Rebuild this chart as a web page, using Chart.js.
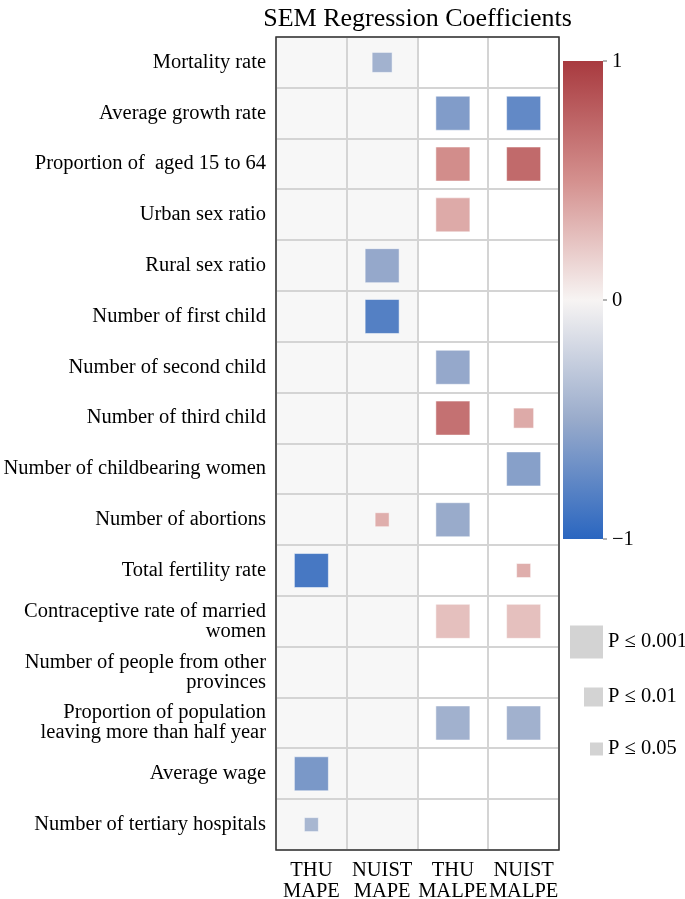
<!DOCTYPE html>
<html>
<head>
<meta charset="utf-8">
<script src="https://cdn.jsdelivr.net/npm/chart.js@4"></script>
<style>
  body { margin: 0; background: #fff; }
</style>
</head>
<body>
<canvas id="myChart" width="685" height="899"></canvas>
<script>
// rows (top to bottom) and columns
const factors = [
  "Mortality rate",
  "Average growth rate",
  "Proportion of  aged 15 to 64",
  "Urban sex ratio",
  "Rural sex ratio",
  "Number of first child",
  "Number of second child",
  "Number of third child",
  "Number of childbearing women",
  "Number of abortions",
  "Total fertility rate",
  "Contraceptive rate of married\nwomen",
  "Number of people from other\nprovinces",
  "Proportion of population\nleaving more than half year",
  "Average wage",
  "Number of tertiary hospitals"
];
const models = ["THU\nMAPE", "NUIST\nMAPE", "THU\nMALPE", "NUIST\nMALPE"];
const chartTitle = "SEM Regression Coefficients";

// coefficients, null = not significant
const thuMapeCoef    = [null, null, null, null, null, null, null, null, null, null, -0.87, null, null, null, -0.64, -0.42];
const nuistMapeCoef  = [-0.45, null, null, null, -0.52, -0.81, null, null, null, 0.35, null, null, null, null, null, null];
const thuMalpeCoef   = [null, -0.61, 0.52, 0.37, null, null, -0.52, 0.68, null, -0.5, null, 0.26, null, -0.46, null, null];
const nuistMalpeCoef = [null, -0.75, 0.72, null, null, null, null, 0.37, -0.58, null, 0.35, 0.26, null, -0.46, null, null];

// p value level for each cell
const thuMapeP    = [null, null, null, null, null, null, null, null, null, null, 0.001, null, null, null, 0.001, 0.05];
const nuistMapeP  = [0.01, null, null, null, 0.001, 0.001, null, null, null, 0.05, null, null, null, null, null, null];
const thuMalpeP   = [null, 0.001, 0.001, 0.001, null, null, 0.001, 0.001, null, 0.001, null, 0.001, null, 0.001, null, null];
const nuistMalpeP = [null, 0.001, 0.001, null, null, null, null, 0.01, 0.001, null, 0.05, 0.001, null, 0.001, null, null];

const pLevels = [0.001, 0.01, 0.05];
const pLabels = ["P \u2264 0.001", "P \u2264 0.01", "P \u2264 0.05"];
const cbarTicks = [1, 0, -1];

// colour map (value -> rgb)
const colorStops = [
  [-1, [42, 102, 192]],
  [-0.5, [153, 171, 203]],
  [0, [247, 244, 243]],
  [0.5, [212, 144, 142]],
  [1, [168, 58, 63]]
];
const squareSide = { 0.001: 34, 0.01: 20, 0.05: 14 };
const FONT = '"Liberation Serif", "Times New Roman", serif';

function coefColor(v) {
  for (let i = 0; i < colorStops.length - 1; i++) {
    const [v0, c0] = colorStops[i];
    const [v1, c1] = colorStops[i + 1];
    if (v >= v0 && v <= v1) {
      const t = (v - v0) / (v1 - v0);
      return "rgb(" + c0.map((c, k) => Math.round(c + (c1[k] - c) * t)).join(",") + ")";
    }
  }
  return "#ccc";
}

const coefByModel = [thuMapeCoef, nuistMapeCoef, thuMalpeCoef, nuistMalpeCoef];
const pByModel = [thuMapeP, nuistMapeP, thuMalpeP, nuistMalpeP];
let points = [];
let fills = [];
let radii = [];
models.forEach((m, j) => {
  factors.forEach((f, i) => {
    const v = coefByModel[j][i];
    if (v === null) return;
    points.push({ x: m, y: f });
    fills.push(coefColor(v));
    // rect point style: side = radius * sqrt(2)
    radii.push(squareSide[pByModel[j][i]] / Math.SQRT2);
  });
});

const extras = {
  id: "extras",
  beforeDraw(chart) {
    const { ctx, chartArea, scales } = chart;
    const mid = (scales.x.getPixelForValue(1) + scales.x.getPixelForValue(2)) / 2;
    ctx.save();
    ctx.fillStyle = "#f7f7f7";
    ctx.fillRect(chartArea.left, chartArea.top, mid - chartArea.left, chartArea.bottom - chartArea.top);
    ctx.restore();
  },
  afterDraw(chart) {
    const { ctx, chartArea } = chart;
    ctx.save();
    ctx.strokeStyle = "#333";
    ctx.lineWidth = 1.5;
    ctx.strokeRect(chartArea.left, chartArea.top, chartArea.right - chartArea.left, chartArea.bottom - chartArea.top);

    // title, centred over the plot (wider than the plot, so not the built-in one)
    ctx.fillStyle = "#000";
    ctx.font = "26px " + FONT;
    ctx.textAlign = "center";
    ctx.textBaseline = "alphabetic";
    ctx.fillText(chartTitle, (chartArea.left + chartArea.right) / 2, 26);
    ctx.textAlign = "left";

    // colour bar
    const cx = chartArea.right + 4, cw = 40, ctop = 61, cbot = 539;
    const grad = ctx.createLinearGradient(0, ctop, 0, cbot);
    colorStops.forEach(([v, c]) => grad.addColorStop((1 - v) / 2, "rgb(" + c.join(",") + ")"));
    ctx.fillStyle = grad;
    ctx.fillRect(cx, ctop, cw, cbot - ctop);
    ctx.font = "20.5px " + FONT;
    ctx.textBaseline = "middle";
    cbarTicks.forEach((t) => {
      const y = ctop + ((1 - t) / 2) * (cbot - ctop);
      ctx.strokeStyle = "#666";
      ctx.lineWidth = 1;
      ctx.beginPath();
      ctx.moveTo(cx + cw, y);
      ctx.lineTo(cx + cw + 4, y);
      ctx.stroke();
      ctx.fillStyle = "#000";
      ctx.fillText(t < 0 ? "\u2212" + Math.abs(t) : String(t), cx + cw + 9, y + 1);
    });

    // size legend
    const legY = [642, 697, 749];
    pLevels.forEach((p, k) => {
      const s = squareSide[p] - 1;
      ctx.fillStyle = "#d3d3d3";
      ctx.fillRect(cx + cw - s, legY[k] - s / 2, s, s);
      ctx.fillStyle = "#000";
      ctx.fillText(pLabels[k], cx + cw + 5, legY[k]);
    });
    ctx.restore();
  }
};

const ctx = document.getElementById("myChart").getContext("2d");
const myChart = new Chart(ctx, {
  type: "scatter",
  data: {
    datasets: [
      {
        data: points,
        backgroundColor: fills,
        borderColor: "rgba(255,255,255,0.5)",
        borderWidth: 1,
        pointStyle: "rect",
        pointRadius: radii,
        pointHoverRadius: radii
      }
    ]
  },
  options: {
    responsive: false,
    animation: false,
    layout: { padding: { left: 0, right: 126, top: 37, bottom: 0 } },
    plugins: {
      legend: { display: false },
      tooltip: { enabled: false },
      title: { display: false }
    },
    scales: {
      x: {
        type: "category",
        labels: models,
        offset: true,
        position: "bottom",
        border: { display: false },
        grid: { offset: true, color: "#d4d4d4", lineWidth: 2, drawTicks: false },
        ticks: {
          autoSkip: false,
          maxRotation: 0,
          minRotation: 0,
          padding: 10,
          color: "#000",
          font: { family: FONT, size: 20.5, lineHeight: 1.03 },
          callback: function (value) {
            return this.getLabelForValue(value).split("\n");
          }
        },
        afterFit: (scale) => {
          scale.height = 49;
        }
      },
      y: {
        type: "category",
        labels: factors,
        offset: true,
        border: { display: false },
        grid: { offset: true, color: "#d4d4d4", lineWidth: 2, drawTicks: false },
        ticks: {
          autoSkip: false,
          padding: 10,
          color: "#000",
          font: { family: FONT, size: 20.5, lineHeight: 0.98 },
          callback: function (value) {
            return this.getLabelForValue(value).split("\n");
          }
        },
        afterFit: (scale) => {
          scale.width = 276;
        }
      }
    }
  },
  plugins: [extras]
});
</script>
</body>
</html>
